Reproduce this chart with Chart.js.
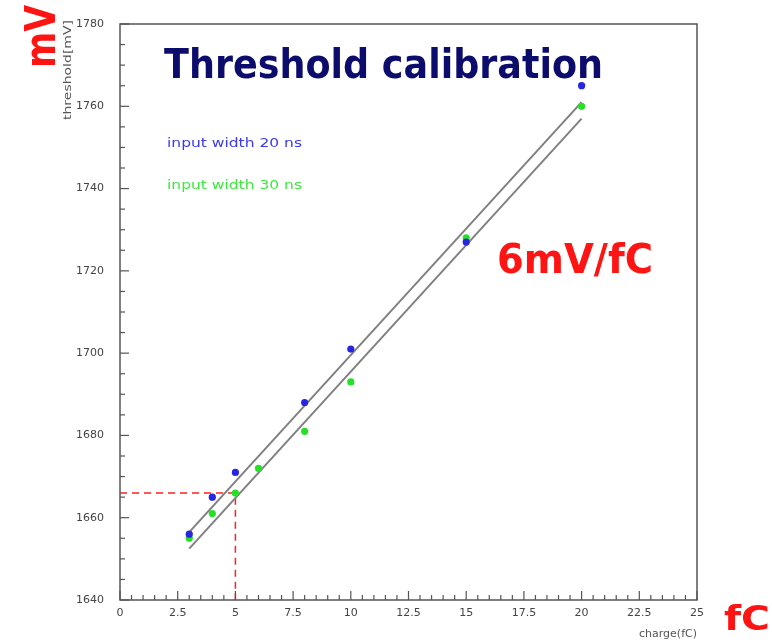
<!DOCTYPE html>
<html>
<head>
<meta charset="utf-8">
<script src="https://cdn.jsdelivr.net/npm/chart.js@4.4.1/dist/chart.umd.min.js"></script>
<style>
html,body{margin:0;padding:0;background:#fff;}
#c{display:block;}
</style>
</head>
<body>
<canvas id="c" width="772" height="643"></canvas>
<script>
// ---- data ----
const blueX = [3, 4, 5, 8, 10, 15, 20];
const blueY = [1656, 1665, 1671, 1688, 1701, 1727, 1765];
const greenX = [3, 4, 5, 6, 8, 10, 15, 20];
const greenY = [1655, 1661, 1666, 1672, 1681, 1693, 1728, 1760];
const fitUpperX = [3, 20];
const fitUpperY = [1656.5, 1761];
const fitLowerX = [3, 20];
const fitLowerY = [1652.5, 1757];
const markX = [0, 5, 5];
const markY = [1666, 1666, 1640];
const xTickValues = [0, 2.5, 5, 7.5, 10, 12.5, 15, 17.5, 20, 22.5, 25];
const yTickValues = [1640, 1660, 1680, 1700, 1720, 1740, 1760, 1780];
const legendLabels = ["input width 20 ns", "input width 30 ns"];
const titleText = "Threshold calibration";
const slopeText = "6mV/fC";
const xTitle = "charge(fC)";
const yTitle = "threshold[mV]";

const pts = (xs, ys) => xs.map((x, i) => ({x: x, y: ys[i]}));

function fitText(ctx, text, x, y, w, font, color, align) {
  ctx.save();
  ctx.font = font;
  ctx.fillStyle = color;
  const m = ctx.measureText(text).width;
  const s = w / m;
  ctx.translate(x, y);
  ctx.scale(s, 1);
  ctx.textAlign = 'left';
  ctx.textBaseline = 'alphabetic';
  let ox = 0;
  if (align === 'center') ox = -m / 2;
  else if (align === 'right') ox = -m;
  ctx.fillText(text, ox, 0);
  ctx.restore();
}

const decor = {
  id: 'decor',
  afterDraw(chart) {
    const ctx = chart.ctx;
    const a = chart.chartArea;
    const xs = chart.scales.x, ys = chart.scales.y;
    ctx.save();
    // frame
    ctx.strokeStyle = '#555';
    ctx.lineWidth = 1.5;
    ctx.strokeRect(a.left, a.top, a.right - a.left, a.bottom - a.top);
    // ticks (inside)
    ctx.lineWidth = 1.2;
    for (let v = 0; v <= 25.001; v += 0.5) {
      const px = xs.getPixelForValue(v);
      const major = Math.abs(v / 2.5 - Math.round(v / 2.5)) < 1e-6;
      const len = major ? 9 : 5;
      ctx.beginPath();
      ctx.moveTo(px, a.bottom);
      ctx.lineTo(px, a.bottom - len);
      ctx.stroke();
    }
    for (let v = 1640; v <= 1780.001; v += 5) {
      const py = ys.getPixelForValue(v);
      const major = (v % 20) === 0;
      const len = major ? 9 : 5;
      ctx.beginPath();
      ctx.moveTo(a.left, py);
      ctx.lineTo(a.left + len, py);
      ctx.stroke();
    }
    // axis titles
    ctx.fillStyle = '#555';
    ctx.font = '11px "DejaVu Sans"';
    ctx.textAlign = 'right';
    ctx.textBaseline = 'alphabetic';
    ctx.fillText(xTitle, a.right, 637);
    ctx.save();
    ctx.translate(71, 20);
    ctx.rotate(-Math.PI / 2);
    fitText(ctx, yTitle, 0, 0, 100, '11px "DejaVu Sans"', '#555', 'right');
    ctx.restore();
    // legend texts
    fitText(ctx, legendLabels[0], 167, 147, 135, '12px "DejaVu Sans"', '#3a3af0', 'left');
    fitText(ctx, legendLabels[1], 167, 189, 135, '12px "DejaVu Sans"', '#3ee83e', 'left');
    // title
    fitText(ctx, titleText, 164, 78, 439, 'bold 41px "DejaVu Sans"', '#0c0c6c', 'left');
    // slope
    fitText(ctx, slopeText, 497, 273, 156, 'bold 40px "DejaVu Sans"', '#ff1414', 'left');
    // fC
    fitText(ctx, 'fC', 724, 630, 46, 'bold 34px "DejaVu Sans"', '#ff1414', 'left');
    // mV rotated
    ctx.save();
    ctx.translate(55, 68);
    ctx.rotate(-Math.PI / 2);
    fitText(ctx, 'mV', 0, 0, 63, 'bold 42px "DejaVu Sans"', '#ff1414', 'left');
    ctx.restore();
    ctx.restore();
  }
};

new Chart(document.getElementById('c'), {
  type: 'scatter',
  data: {
    datasets: [
      {data: pts(fitUpperX, fitUpperY), showLine: true, borderColor: '#808080', borderWidth: 2, pointRadius: 0, order: 3},
      {data: pts(fitLowerX, fitLowerY), showLine: true, borderColor: '#808080', borderWidth: 2, pointRadius: 0, order: 3},
      {data: pts(markX, markY), showLine: true, borderColor: '#ff2020', borderWidth: 1.5, borderDash: [7, 5], pointRadius: 0, order: 4},
      {data: pts(blueX, blueY), backgroundColor: '#2626e0', borderColor: '#2626e0', pointRadius: 3.6, borderWidth: 0, order: 1},
      {data: pts(greenX, greenY), backgroundColor: '#26e026', borderColor: '#26e026', pointRadius: 3.6, borderWidth: 0, order: 1}
    ]
  },
  options: {
    responsive: false,
    animation: false,
    layout: {padding: {left: 0, right: 75, top: 24, bottom: 0}},
    plugins: {legend: {display: false}, tooltip: {enabled: false}},
    scales: {
      x: {
        type: 'linear', min: 0, max: 25,
        afterBuildTicks(s) { s.ticks = xTickValues.map(v => ({value: v})); },
        afterFit(s) { s.height = 43; },
        grid: {display: false, drawTicks: false},
        border: {display: false},
        ticks: {padding: 7, color: '#444', font: {family: 'DejaVu Sans', size: 11}, maxRotation: 0, autoSkip: false,
          callback: v => String(v)}
      },
      y: {
        type: 'linear', min: 1640, max: 1780,
        afterBuildTicks(s) { s.ticks = yTickValues.map(v => ({value: v})); },
        afterFit(s) { s.width = 120; },
        grid: {display: false, drawTicks: false},
        border: {display: false},
        ticks: {padding: 16, color: '#444', font: {family: 'DejaVu Sans', size: 11}, autoSkip: false,
          callback: v => String(v)}
      }
    }
  },
  plugins: [decor]
});
</script>
</body>
</html>
